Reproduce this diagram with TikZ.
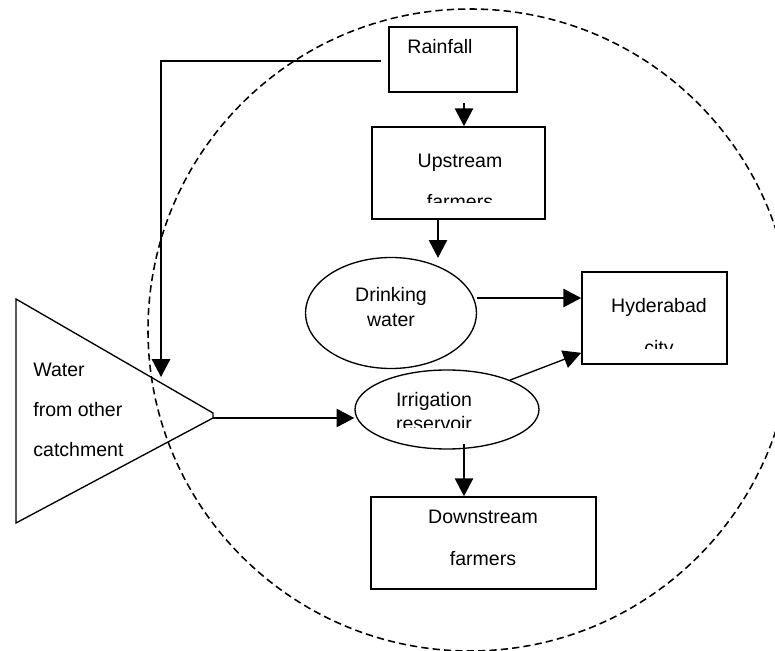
\documentclass[tikz,border=0pt]{standalone}
\usepackage{fontspec}
\setmainfont{Liberation Sans}
\usetikzlibrary{arrows.meta,calc,fit,shapes.geometric}

\def\px{0.18mm}

\begin{document}
\begin{tikzpicture}[x=\px, y=-\px,
    box/.style={draw, line width=0.3mm, inner sep=0pt},
    oval/.style={draw, ellipse, line width=0.24mm, inner sep=0pt},
    flow/.style={line width=0.24mm, -{Triangle[length=3.2mm, width=3.3mm]}},
    lbl/.style={anchor=base, inner sep=0pt, font=\fontsize{10}{12}\selectfont}]
    \useasboundingbox (0,0) rectangle (775,651);
    % catchment boundary
    \draw[line width=0.28mm, dash pattern=on 1.3mm off 0.75mm] (470,330) ellipse [x radius=322, y radius=321];

    \node[box, fit={(389,27) (517,92)}] (rain) {};
    \node[box, fit={(372,127) (545,219)}] (up) {};
    \node[box, fit={(582,272) (727,364)}] (hyd) {};
    \node[box, fit={(371,497) (596,589)}] (down) {};
    \node[oval, minimum width=171*\px, minimum height=111*\px] (drink) at (391,313) {};
    \node[oval, minimum width=184*\px, minimum height=79*\px] (irr) at (447,409.5) {};
    % other catchment
    \draw[line width=0.24mm] (16,299) -- (213,413) -- (213,418) coordinate (tip) -- (16,523) -- cycle;
    \coordinate (tri-in) at (161,377);

    \node[lbl] (rain-t) at (440,54) {Rainfall};
    \begin{scope}
      \clip (372,127) rectangle (545,203);
      \node[lbl] (up-t1) at (460,168) {Upstream};
      \node[lbl] (up-t2) at (460,209) {farmers};
    \end{scope}
    \node[lbl] (drink-t1) at (391,302) {Drinking};
    \node[lbl] (drink-t2) at (391,327) {water};
    \begin{scope}
      \clip (582,272) rectangle (727,349);
      \node[lbl] (hyd-t1) at (659,313) {Hyderabad};
      \node[lbl] (hyd-t2) at (659,355) {city};
    \end{scope}
    \begin{scope}
      \clip (355,370) rectangle (539,428);
      \node[lbl] (irr-t1) at (434,407) {Irrigation};
      \node[lbl] (irr-t2) at (434,431) {reservoir};
    \end{scope}
    \node[lbl] (down-t1) at (483,524) {Downstream};
    \node[lbl] (down-t2) at (483,566) {farmers};
    \node[lbl, anchor=base west] (wat-t1) at (33,377) {Water};
    \node[lbl, anchor=base west] (wat-t2) at (33,417) {from other};
    \node[lbl, anchor=base west] (wat-t3) at (33,457) {catchment};

    % flows
    \draw[flow] ($(rain.south)+(11,10)$) coordinate (r1) -- (r1 |- up.north);
    \draw[flow] ($(rain.west)+(-7,1.5)$) -| (tri-in);
    \draw[flow] ($(up.south)+(-20.5,0)$) -- ++(0,38);
    \draw[flow] ($(drink.east)+(0,-15)$) coordinate (d1) -- (d1 -| hyd.west);
    \draw[flow] (irr.25) -- ($(hyd.south west)+(0,-12)$);
    \draw[flow] (tip) -- (tip -| irr.west);
    \draw[flow] ($(irr.south)+(17,-6)$) coordinate (i1) -- (i1 |- down.north);
\end{tikzpicture}
\end{document}
